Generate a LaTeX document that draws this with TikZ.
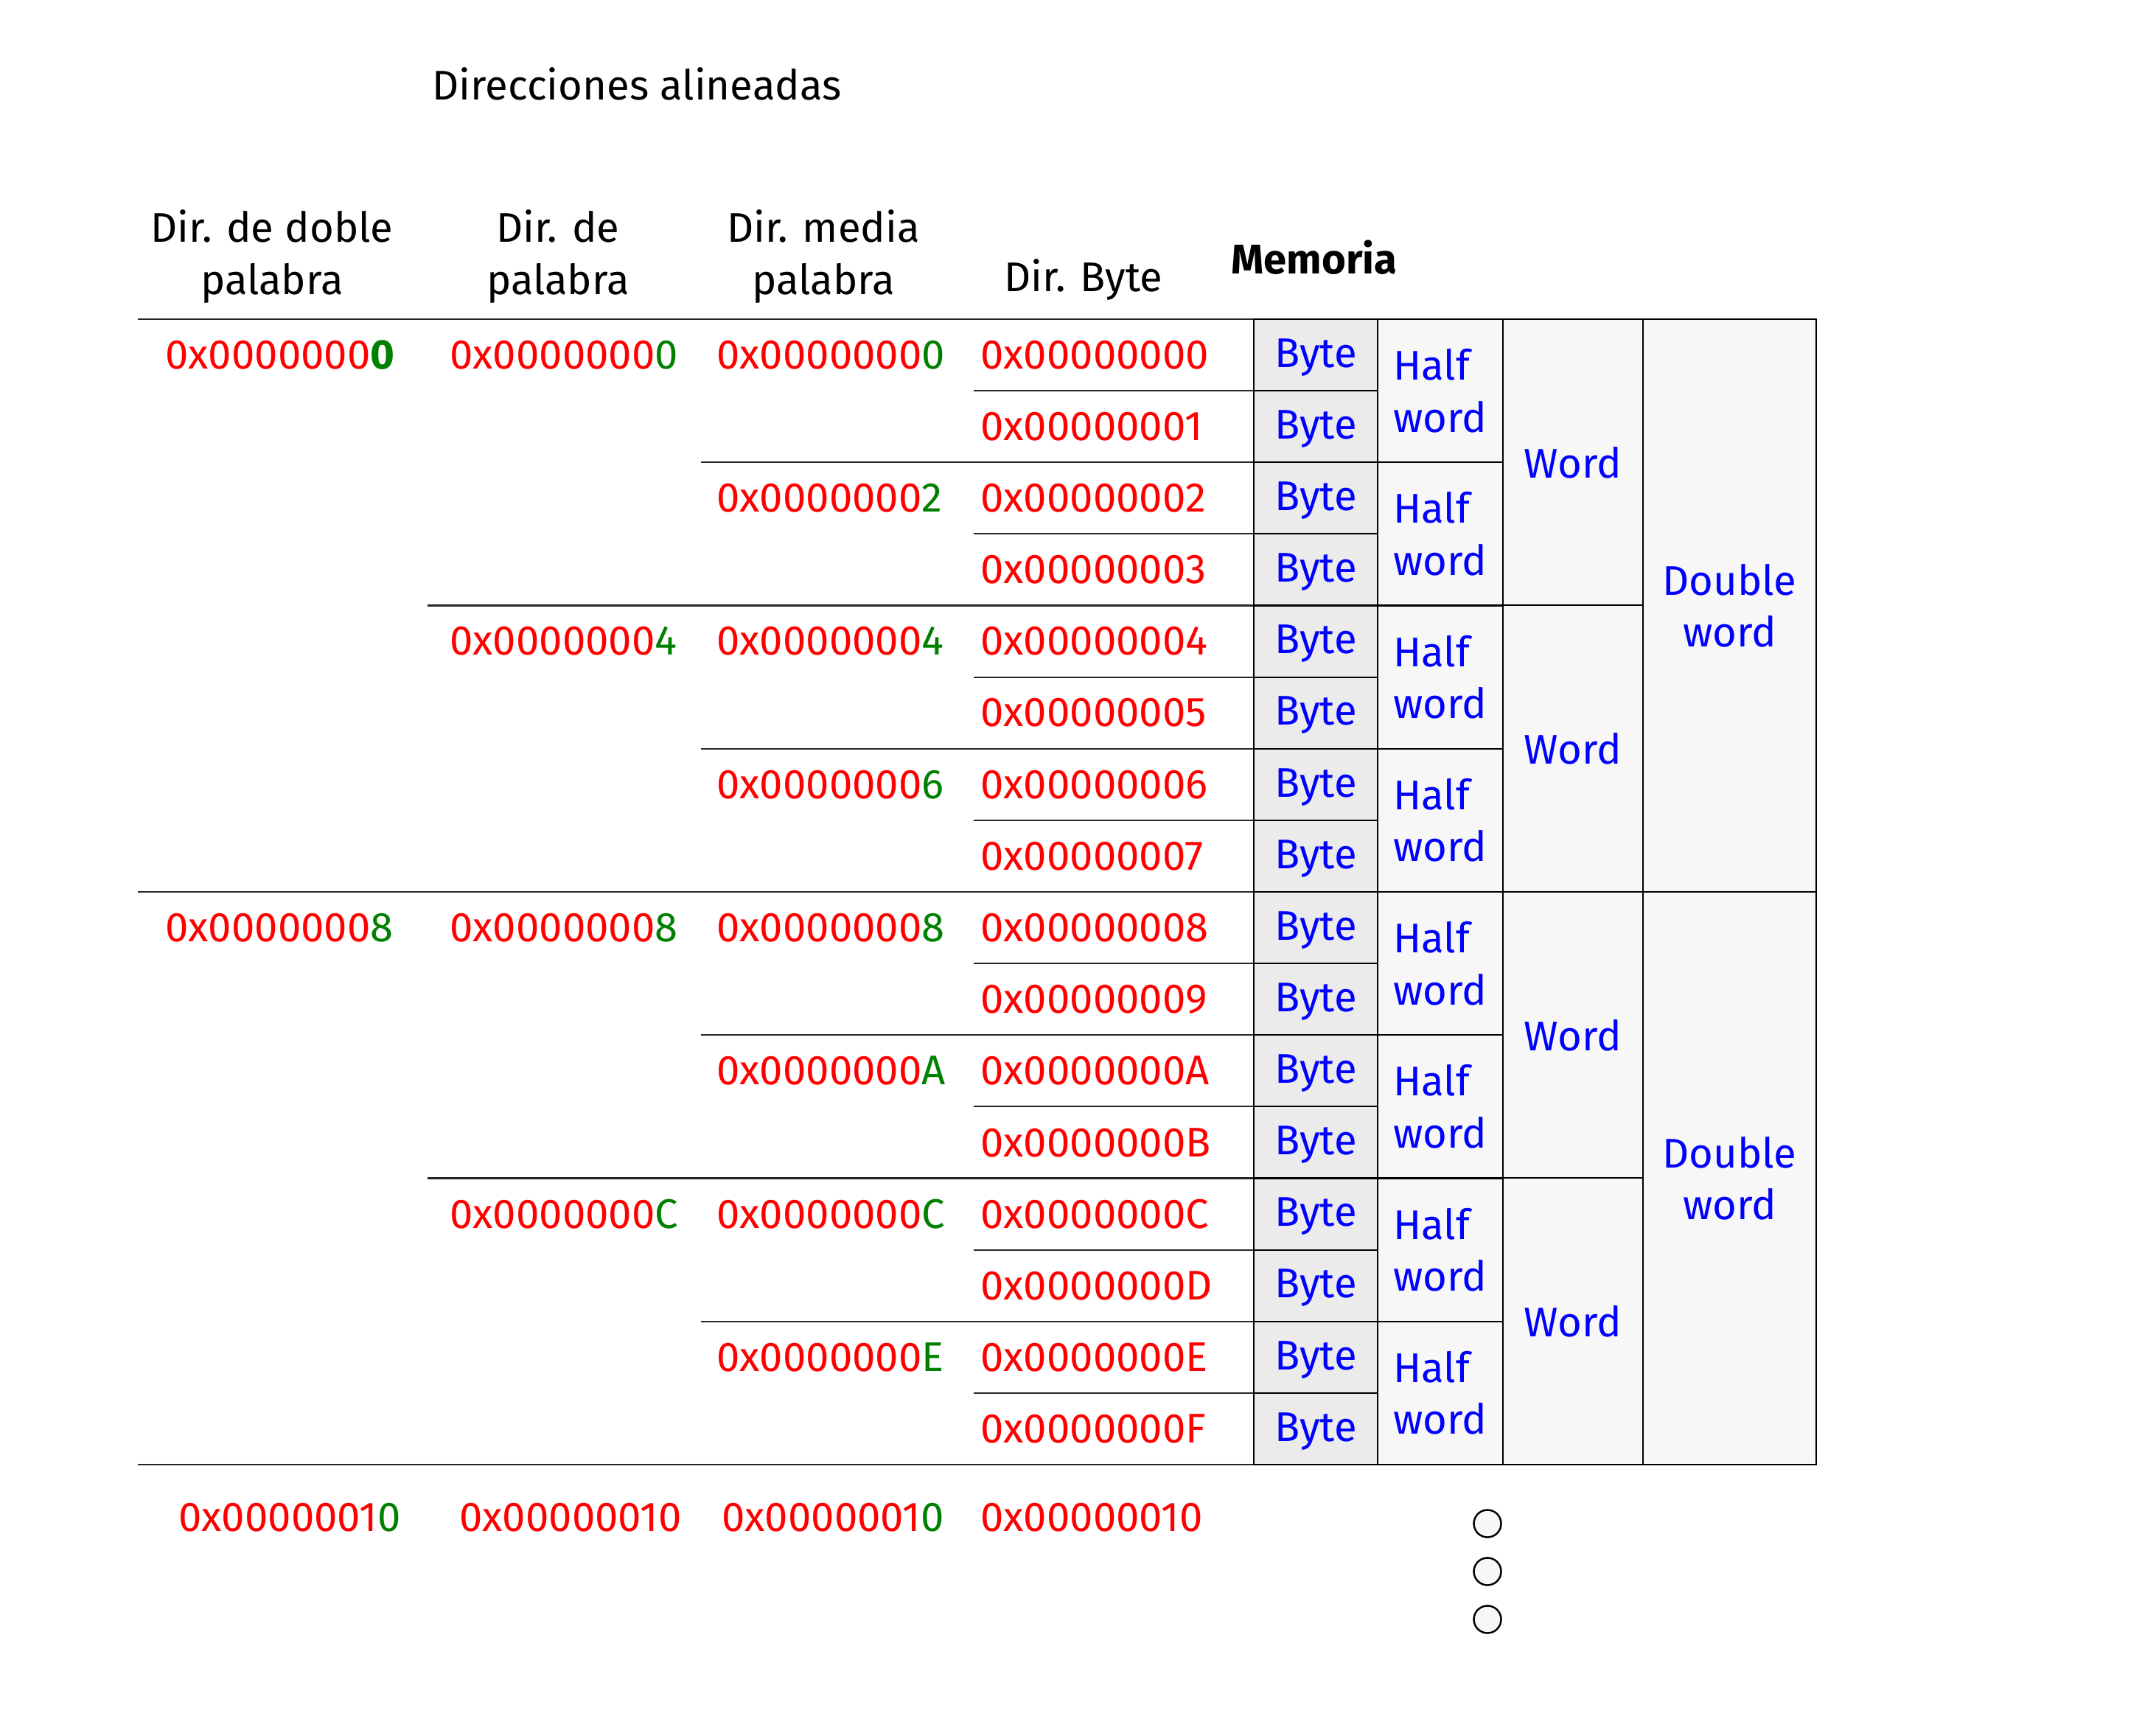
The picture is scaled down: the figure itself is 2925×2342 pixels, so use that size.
\documentclass[tikz,border=0pt]{standalone}
\usepackage{fontspec}
\setmainfont{Fira Sans}
\usepackage{tikz}
\usetikzlibrary{positioning}
\definecolor{addrred}{HTML}{FF0000}
\definecolor{addrgreen}{HTML}{008000}
\definecolor{memblue}{HTML}{0000FF}
\definecolor{bytefill}{HTML}{EBEBEB}
\definecolor{cellfill}{HTML}{F7F7F7}
\newcommand{\hexaddr}[2]{\textcolor{addrred}{#1}\textcolor{addrgreen}{#2}}

\begin{document}
\begin{tikzpicture}[
  x=0.01cm, y=-0.01cm,
  every node/.style={font=\fontsize{16}{20}\selectfont, inner sep=0pt},
  head/.style={align=center},
  addr/.style={anchor=west, text=addrred},
  rowline/.style={draw=black!85, line width=0.6pt},
  memcell/.style={draw, line width=0.6pt, fill=cellfill, text=memblue,
    minimum width=1.68cm},
  bytecell/.style={memcell, fill=bytefill, minimum height=0.97125cm,
    text height=1.8ex, text depth=0ex},
  halfcell/.style={memcell, align=left, minimum width=1.70cm, minimum height=1.9425cm},
  wordcell/.style={memcell, minimum width=1.90cm, minimum height=3.885cm},
  dwordcell/.style={memcell, align=center, minimum width=2.35cm, minimum height=7.77cm},
  morecirc/.style={draw, circle, fill=cellfill, line width=0.7pt, minimum size=0.37cm}
]
\useasboundingbox (0,0) rectangle (2925,2342);

\node (title) at (864,114) {Direcciones alineadas};
\node[head] (hdouble) at (369,348) {Dir. de doble\\palabra};
\node[head] (hword) at (757,348) {Dir. de\\palabra};
\node[head] (hhalf) at (1117,348) {Dir. media\\palabra};
\node (hbyte) at (1470,380) {Dir. Byte};
\node (hmem) at (1783,349) {\textbf{Memoria}};

\draw[rowline] (187,433) -- (1701,433);
\foreach \k/\xs in {1/1321,2/951,3/1321,4/580,5/1321,6/951,7/1321,8/187,
                    9/1321,10/951,11/1321,12/580,13/1321,14/951,15/1321,16/187}
  \draw[rowline] (\xs,{433+97.125*\k}) -- (1701,{433+97.125*\k});

\foreach \i in {0,...,15}
  \node[bytecell] (byte\i) at (1785,{433+97.125*(\i+0.5)}) {Byte};
\foreach \i in {0,...,7}
  \node[halfcell] (half\i) at (1954,{433+194.25*(\i+0.5)}) {Half\\word};
\foreach \i in {0,...,3}
  \node[wordcell] (word\i) at (2134,{433+388.5*(\i+0.5)}) {Word};
\foreach \i in {0,1}
  \node[dwordcell] (dword\i) at (2346.5,{433+777*(\i+0.5)}) {Double\\word};

\foreach \i/\h in {0/0,1/1,2/2,3/3,4/4,5/5,6/6,7/7,8/8,9/9,10/A,11/B,12/C,13/D,14/E,15/F}
  \node[addr] (dirbyte\i) at (1330,{433+97.125*(\i+0.5)}) {0x0000000\h};
\foreach \i/\h in {0/0,2/2,4/4,6/6,8/8,10/A,12/C,14/E}
  \node[addr] (dirhalf\i) at (972,{433+97.125*(\i+0.5)}) {\hexaddr{0x0000000}{\h}};
\foreach \i/\h in {0/0,4/4,8/8,12/C}
  \node[addr] (dirword\i) at (610,{433+97.125*(\i+0.5)}) {\hexaddr{0x0000000}{\h}};
\node[addr] (dirdouble0) at (224,481.6) {\hexaddr{0x0000000}{\textbf{0}}};
\node[addr] (dirdouble8) at (224,1258.6) {\hexaddr{0x0000000}{8}};

\node[addr] (next1) at (242,2059) {\hexaddr{0x0000001}{0}};
\node[addr] (next2) at (623,2059) {0x00000010};
\node[addr] (next3) at (979,2059) {\hexaddr{0x0000001}{0}};
\node[addr] (next4) at (1330,2059) {0x00000010};

\foreach \j/\y in {1/2067,2/2132,3/2197}
  \node[morecirc] (more\j) at (2018,\y) {};
\end{tikzpicture}
\end{document}
